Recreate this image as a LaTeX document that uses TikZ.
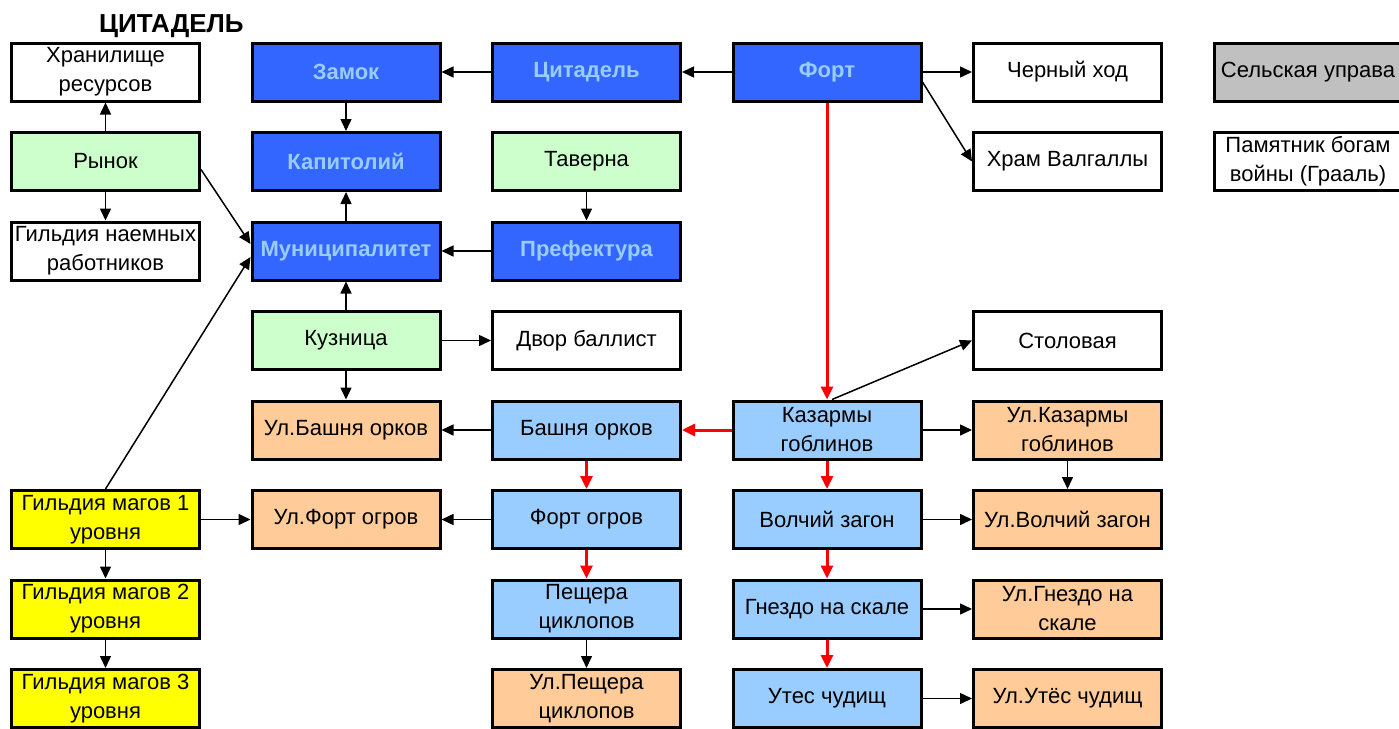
\documentclass[tikz,border=0pt]{standalone}
\usepackage{fontspec}
\setmainfont{Liberation Sans}
\usetikzlibrary{arrows.meta,positioning}
\definecolor{royal}{HTML}{3366FF}
\definecolor{sky}{HTML}{99CCFF}
\definecolor{mint}{HTML}{CCFFCC}
\definecolor{peach}{HTML}{FFCC99}
\definecolor{lemon}{HTML}{FFFF00}
\definecolor{silver}{HTML}{C0C0C0}
\definecolor{alarm}{HTML}{FF0000}
\newcommand\nodefont{\fontsize{22}{29}\selectfont}
\tikzset{
  box/.style={draw=black, line width=3pt, minimum width=188pt, minimum height=58pt, inner sep=1pt, align=center, font=\nodefont},
  basic/.style={box, fill=white},
  castle/.style={box, fill=royal, text=sky, font=\nodefont\bfseries},
  troop/.style={box, fill=sky},
  econ/.style={box, fill=mint},
  upg/.style={box, fill=peach},
  mage/.style={box, fill=lemon},
  grail/.style={box, fill=silver},
  arrow/.style={-{Triangle[length=12pt,width=11pt]}, line width=1.5pt, draw=black},
  redarrow/.style={-{Triangle[length=13pt,width=12pt]}, line width=3pt, draw=alarm}
}

\begin{document}
\begin{tikzpicture}[x=1pt, y=-1pt, node distance=28.5pt and 49.5pt]
\useasboundingbox (0,0) rectangle (1399,728);
\node[font=\fontsize{26}{30}\selectfont\bfseries, anchor=west, inner sep=0pt] (title) at (99,26) {ЦИТАДЕЛЬ};
% column 1
\node[basic] (khran) at (105.5,72) {Хранилище\\ресурсов};
\node[econ, below=of khran] (rynok) {Рынок};
\node[basic, below=of rynok] (naem) {Гильдия наемных\\работников};
% column 2
\node[castle, right=of khran] (zamok) {Замок};
\node[castle, below=of zamok] (kapit) {Капитолий};
\node[castle, below=of kapit] (munic) {Муниципалитет};
\node[econ, below=of munic] (kuzn) {Кузница};
\node[upg, below=of kuzn] (ulbash) {Ул.Башня орков};
\node[upg, below=of ulbash] (ulogr) {Ул.Форт огров};
\node[mage, left=of ulogr] (mag1) {Гильдия магов 1\\уровня};
\node[mage, below=of mag1] (mag2) {Гильдия магов 2\\уровня};
\node[mage, below=of mag2] (mag3) {Гильдия магов 3\\уровня};
% column 3
\node[castle, right=of zamok] (citad) {Цитадель};
\node[econ, below=of citad] (tavern) {Таверна};
\node[castle, below=of tavern] (pref) {Префектура};
\node[basic, below=of pref] (dvor) {Двор баллист};
\node[troop, below=of dvor] (bash) {Башня орков};
\node[troop, below=of bash] (ogr) {Форт огров};
\node[troop, below=of ogr] (pesh) {Пещера\\циклопов};
\node[upg, below=of pesh] (ulpesh) {Ул.Пещера\\циклопов};
% column 4
\node[castle, right=of citad] (fort) {Форт};
\node[troop] (kaz) at (fort |- bash) {Казармы\\гоблинов};
\node[troop, below=of kaz] (volk) {Волчий загон};
\node[troop, below=of volk] (gnezdo) {Гнездо на скале};
\node[troop, below=of gnezdo] (utes) {Утес чудищ};
% column 5
\node[basic, right=of fort] (chern) {Черный ход};
\node[basic, below=of chern] (hram) {Храм Валгаллы};
\node[basic] (stol) at (chern |- dvor) {Столовая};
\node[upg, below=of stol] (ulkaz) {Ул.Казармы\\гоблинов};
\node[upg, below=of ulkaz] (ulvolk) {Ул.Волчий загон};
\node[upg, below=of ulvolk] (ulgnezdo) {Ул.Гнездо на\\скале};
\node[upg, below=of ulgnezdo] (ulutes) {Ул.Утёс чудищ};
% column 6
\node[grail, right=of chern] (selsk) {Сельская управа};
\node[basic, below=of selsk] (pamyat) {Памятник богам\\войны (Грааль)};
% links
\foreach \u/\v in {rynok/khran,rynok/naem,zamok/kapit,munic/kapit,kuzn/munic,citad/zamok,fort/citad,pref/munic,tavern/pref,fort/chern,kuzn/dvor,kuzn/ulbash,bash/ulbash,ogr/ulogr,mag1/ulogr,mag1/mag2,mag2/mag3,pesh/ulpesh,kaz/ulkaz,ulkaz/ulvolk,volk/ulvolk,gnezdo/ulgnezdo,utes/ulutes} {\draw[arrow] (\u) -- (\v);}
\foreach \u/\v in {fort/kaz,kaz/bash,bash/ogr,ogr/pesh,kaz/volk,volk/gnezdo,gnezdo/utes} {\draw[redarrow] (\u) -- (\v);}
\draw[arrow] ([yshift=-8pt]rynok.east) -- ([yshift=7pt]munic.west);
\draw[arrow] (mag1.north) -- ([yshift=-6pt]munic.west);
\draw[arrow] ([yshift=-10pt]fort.east) -- (hram.west);
\draw[arrow] ([xshift=5pt]kaz.north) -- (stol.west);
\end{tikzpicture}
\end{document}
